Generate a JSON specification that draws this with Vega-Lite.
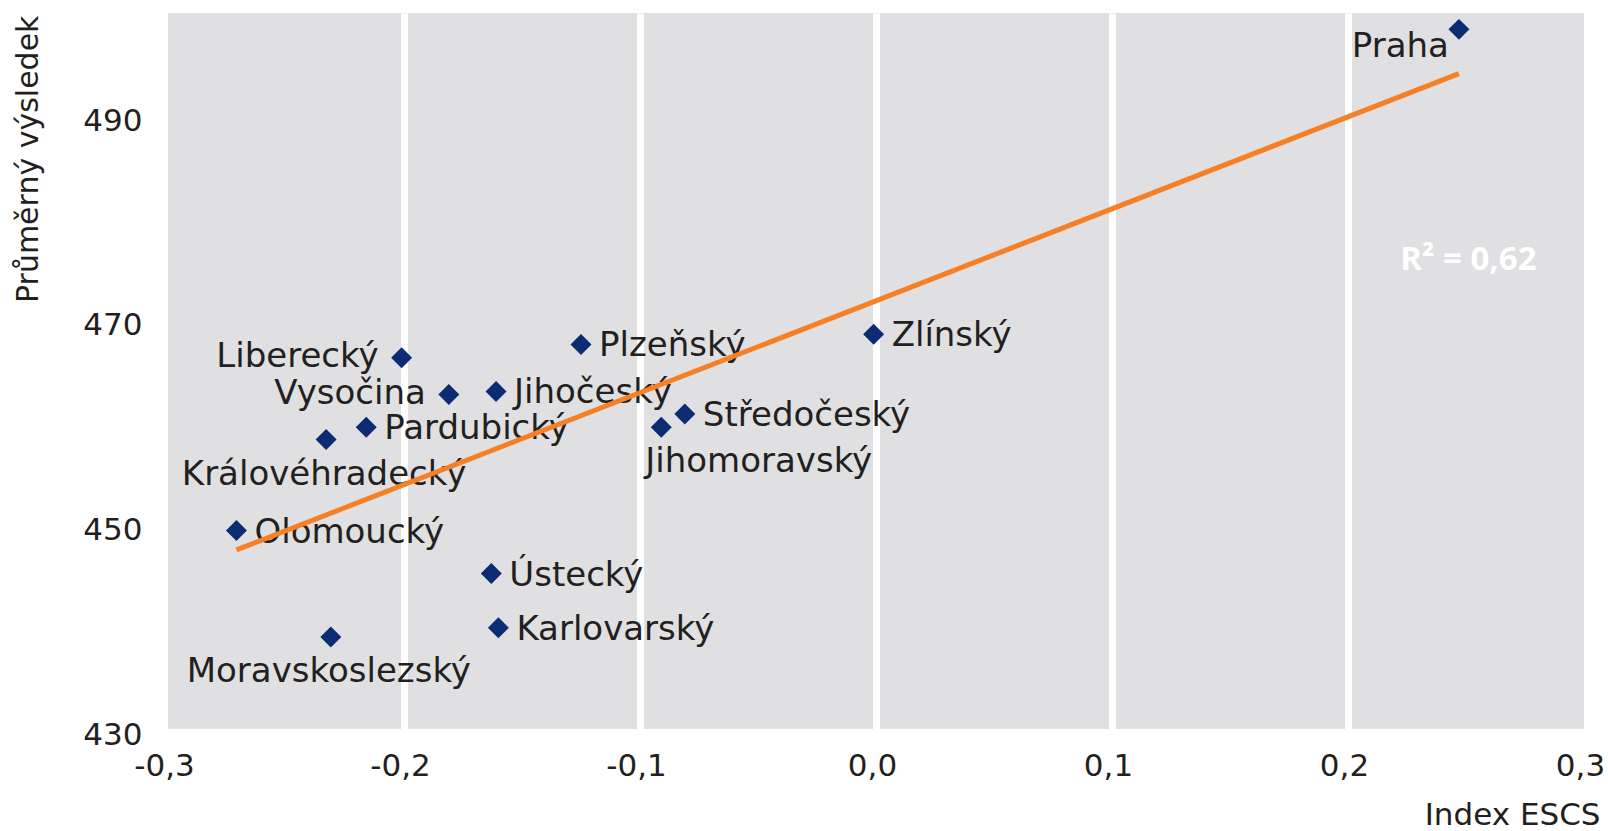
{
  "$schema": "https://vega.github.io/schema/vega-lite/v6.json",
  "width": 1416,
  "height": 716,
  "autosize": {"type": "none"},
  "padding": {"left": 168, "top": 13, "right": 24, "bottom": 102},
  "config": {
    "locale": {"number": {"decimal": ",", "thousands": " ", "grouping": [3], "currency": ["", " Kč"], "minus": "-"}},
    "view": {"fill": "#e0e0e2", "stroke": null},
    "font": "DejaVu Sans",
    "axis": {
      "domain": false,
      "ticks": false,
      "tickSize": 0,
      "labelFont": "DejaVu Sans",
      "labelFontSize": 31,
      "labelColor": "#231f20",
      "titleFont": "DejaVu Sans",
      "titleFontSize": 30,
      "titleFontWeight": "normal",
      "titleColor": "#231f20"
    }
  },
  "datasets": {
    "kraje": [
      {"kraj": "Praha", "escs": 0.247, "vysledek": 498.4},
      {"kraj": "Zlínský", "escs": -0.001, "vysledek": 468.6},
      {"kraj": "Plzeňský", "escs": -0.125, "vysledek": 467.6},
      {"kraj": "Liberecký", "escs": -0.201, "vysledek": 466.3},
      {"kraj": "Vysočina", "escs": -0.181, "vysledek": 462.7},
      {"kraj": "Jihočeský", "escs": -0.161, "vysledek": 463.0},
      {"kraj": "Středočeský", "escs": -0.081, "vysledek": 460.8},
      {"kraj": "Jihomoravský", "escs": -0.091, "vysledek": 459.5},
      {"kraj": "Pardubický", "escs": -0.216, "vysledek": 459.5},
      {"kraj": "Královéhradecký", "escs": -0.233, "vysledek": 458.3},
      {"kraj": "Olomoucký", "escs": -0.271, "vysledek": 449.4},
      {"kraj": "Ústecký", "escs": -0.163, "vysledek": 445.2},
      {"kraj": "Karlovarský", "escs": -0.160, "vysledek": 439.9},
      {"kraj": "Moravskoslezský", "escs": -0.231, "vysledek": 439.0}
    ],
    "anotace": [
      {"popis": "R² = 0,62", "escs": 0.251, "vysledek": 474.9}
    ]
  },
  "data": {"name": "kraje"},
  "encoding": {
    "x": {
      "field": "escs",
      "type": "quantitative",
      "scale": {"domain": [-0.3, 0.3], "nice": false, "zero": false},
      "axis": {
        "values": [-0.3, -0.2, -0.1, 0, 0.1, 0.2, 0.3],
        "format": ".1f",
        "title": "Index ESCS",
        "titleFontSize": 31,
        "grid": true,
        "gridColor": "#ffffff",
        "gridWidth": 7,
        "gridOpacity": {"condition": {"test": "abs(datum.value) > 0.29", "value": 0}, "value": 1},
        "labelPadding": 46,
        "labelBaseline": "alphabetic",
        "labelOffset": -4,
        "labelFlush": false,
        "titleAlign": "right",
        "titleAnchor": "end",
        "titleX": 1432,
        "titleY": 95,
        "titleBaseline": "alphabetic"
      }
    },
    "y": {
      "field": "vysledek",
      "type": "quantitative",
      "scale": {"domain": [430, 500], "nice": false, "zero": false},
      "axis": {
        "values": [430, 450, 470, 490],
        "grid": false,
        "title": "Průměrný výsledek",
        "labelPadding": 26,
        "labelOffset": 6,
        "titleAngle": -90,
        "titleAlign": "right",
        "titleAnchor": "end",
        "titleX": -131,
        "titleY": 2,
        "titleBaseline": "alphabetic"
      }
    }
  },
  "layer": [
    {
      "transform": [{"filter": {"field": "kraj", "oneOf": ["Zlínský", "Plzeňský", "Jihočeský", "Středočeský", "Pardubický", "Olomoucký", "Ústecký", "Karlovarský"]}}],
      "mark": {"type": "text", "align": "left", "baseline": "alphabetic", "dx": 18, "dy": 12, "fontSize": 34, "font": "DejaVu Sans", "color": "#231f20"},
      "encoding": {"text": {"field": "kraj"}}
    },
    {
      "transform": [{"filter": {"field": "kraj", "oneOf": ["Liberecký", "Vysočina"]}}],
      "mark": {"type": "text", "align": "right", "baseline": "alphabetic", "dx": -23, "dy": 9, "fontSize": 34, "font": "DejaVu Sans", "color": "#231f20"},
      "encoding": {"text": {"field": "kraj"}}
    },
    {
      "transform": [{"filter": {"field": "kraj", "oneOf": ["Praha"]}}],
      "mark": {"type": "text", "align": "right", "baseline": "alphabetic", "dx": -10, "dy": 28, "fontSize": 34, "font": "DejaVu Sans", "color": "#231f20"},
      "encoding": {"text": {"field": "kraj"}}
    },
    {
      "transform": [{"filter": {"field": "kraj", "oneOf": ["Královéhradecký", "Moravskoslezský"]}}],
      "mark": {"type": "text", "align": "center", "baseline": "alphabetic", "dx": -2, "dy": 45, "fontSize": 34, "font": "DejaVu Sans", "color": "#231f20"},
      "encoding": {"text": {"field": "kraj"}}
    },
    {
      "transform": [{"filter": {"field": "kraj", "oneOf": ["Jihomoravský"]}}],
      "mark": {"type": "text", "align": "left", "baseline": "alphabetic", "dx": -16, "dy": 45, "fontSize": 34, "font": "DejaVu Sans", "color": "#231f20"},
      "encoding": {"text": {"field": "kraj"}}
    },
    {
      "transform": [{"regression": "vysledek", "on": "escs"}],
      "mark": {"type": "line", "color": "#f58025", "strokeWidth": 5, "strokeCap": "butt"},
      "encoding": {}
    },
    {
      "mark": {"type": "point", "shape": "diamond", "filled": true, "size": 440, "color": "#0b2c73", "opacity": 1},
      "encoding": {}
    },
    {
      "data": {"name": "anotace"},
      "mark": {"type": "text", "align": "center", "baseline": "alphabetic", "fontSize": 33, "font": "Open Sans", "fontWeight": "bold", "color": "#ffffff"},
      "encoding": {"text": {"field": "popis"}}
    }
  ]
}
